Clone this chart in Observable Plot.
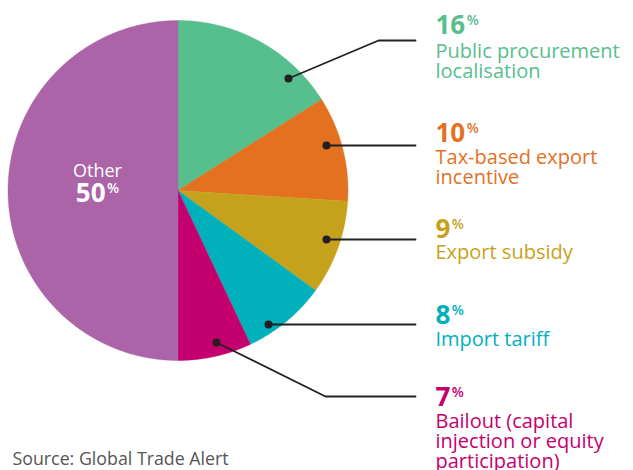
<!DOCTYPE html>
<html><head><meta charset="utf-8">
<script src="https://cdn.jsdelivr.net/npm/d3@7"></script>
<script src="https://cdn.jsdelivr.net/npm/@observablehq/plot@0.6"></script>
<style>body{margin:0;background:#fff}</style>
</head><body><div id="chart"></div>
<script>
// ---- data ----
const categories = ["Public procurement localisation", "Tax-based export incentive", "Export subsidy", "Import tariff", "Bailout (capital injection or equity participation)", "Other"];
const shares = [16, 10, 9, 8, 7, 50];
const labelLines = [["Public procurement", "localisation"], ["Tax-based export", "incentive"], ["Export subsidy"], ["Import tariff"], ["Bailout (capital", "injection or equity", "participation)"], ["Other"]];
const colors = ["#57be8d", "#e3711f", "#c6a21c", "#00b1bc", "#c4006e", "#ab64a8"];
const sourceText = "Source: Global Trade Alert";

// ---- layout (pixels) ----
const W = 633, H = 470, cx = 177.5, cy = 190, R = 170;
const ux = px => (px - cx) / R, uy = py => (cy - py) / R;
const FONT = "Open Sans";
const labelX = 435, leaderEndX = 415;
const numBase = [33, 141, 237, 323, 405];
const textBase = [57, 163, 258, 345, 427];
const labelFs = 20, lineGap = 20;
const dotPos = [[288, 78], [326, 145], [326, 239], [268, 324], [216, 342]];
const elbowPos = [[378, 40], null, null, null, [325, 396]];

const ctx = document.createElement("canvas").getContext("2d");
const measure = (t, f) => { ctx.font = f; return ctx.measureText(t).width; };

// ---- slices ----
const arcs = d3.pie().sort(null).value(d => d)(shares);
const slicePts = [];
arcs.forEach((a, i) => {
  slicePts.push({i, name: categories[i], x: 0, y: 0});
  const n = Math.max(8, Math.ceil((a.endAngle - a.startAngle) / 0.005));
  for (let k = 0; k <= n; k++) {
    const t = a.startAngle + (a.endAngle - a.startAngle) * k / n;
    slicePts.push({i, name: categories[i], x: Math.sin(t), y: Math.cos(t)});
  }
  slicePts.push({i, name: categories[i], x: 0, y: 0});
});

// ---- leaders ----
const leaderPts = [];
dotPos.forEach((p, i) => {
  leaderPts.push({i, x: ux(p[0]), y: uy(p[1])});
  const e = elbowPos[i];
  const endY = e ? e[1] : p[1];
  if (e) leaderPts.push({i, x: ux(e[0]), y: uy(e[1])});
  leaderPts.push({i, x: ux(leaderEndX), y: uy(endY)});
});
const dots = dotPos.map((p, i) => ({i, x: ux(p[0]), y: uy(p[1])}));

// ---- labels ----
const numFont = `bold 26px "${FONT}"`;
const pctFont = `600 14px "${FONT}"`;
const nums = shares.slice(0, 5).map((s, i) => ({name: categories[i], text: String(s), x: ux(labelX), y: uy(numBase[i]), w: measure(String(s), numFont)}));
const textBlocks = labelLines.slice(0, 5).map((lines, i) => ({name: categories[i], text: lines.join("\n"), x: ux(labelX), y: uy(textBase[i] + (lines.length - 1) * lineGap)}));

// Other label
const otherCx = 97;
const w50 = measure(String(shares[5]), numFont), wPct = measure("%", pctFont);
const otherStart = otherCx - (w50 + 1.5 + wPct) / 2;

const chart = Plot.plot({
  width: W, height: H, margin: 0,
  x: {axis: null, domain: [ux(0), ux(W)]},
  y: {axis: null, domain: [uy(H), uy(0)]},
  color: {domain: categories, range: colors},
  style: {fontFamily: FONT, background: "#fff"},
  marks: [
    Plot.line(slicePts, {x: "x", y: "y", z: "i", fill: "name", stroke: "name", strokeWidth: 0.4, curve: "linear"}),
    Plot.line(leaderPts, {x: "x", y: "y", z: "i", stroke: "#231f20", strokeWidth: 1.8, curve: "linear"}),
    Plot.dot(dots, {x: "x", y: "y", r: 4, fill: "#231f20"}),
    Plot.text(nums, {x: "x", y: "y", text: "text", fill: "name", fontSize: 26, fontWeight: "bold", textAnchor: "start", lineAnchor: "bottom"}),
    ...nums.map(d => Plot.text([d], {x: "x", y: "y", text: () => "%", fill: "name", fontSize: 14, fontWeight: 600, textAnchor: "start", lineAnchor: "bottom", dx: d.w + 1.5, dy: -9})),
    Plot.text(textBlocks, {x: "x", y: "y", text: "text", fill: "name", fontSize: labelFs, lineHeight: lineGap / labelFs, textAnchor: "start", lineAnchor: "bottom"}),
    Plot.text([labelLines[5][0]], {x: () => ux(otherCx), y: () => uy(176), text: d => d, fill: "#fff", fontSize: 18, textAnchor: "middle", lineAnchor: "bottom"}),
    Plot.text([String(shares[5])], {x: () => ux(otherStart), y: () => uy(201), text: d => d, fill: "#fff", fontSize: 26, fontWeight: "bold", textAnchor: "start", lineAnchor: "bottom"}),
    Plot.text(["%"], {x: () => ux(otherStart), y: () => uy(201), text: d => d, fill: "#fff", fontSize: 14, fontWeight: 600, textAnchor: "start", lineAnchor: "bottom", dx: w50 + 1.5, dy: -9}),
    Plot.text([sourceText], {x: () => ux(12), y: () => uy(464), text: d => d, fill: "#555", fontSize: 17.8, textAnchor: "start", lineAnchor: "bottom"})
  ]
});
document.getElementById("chart").append(chart);
</script>
</body></html>
